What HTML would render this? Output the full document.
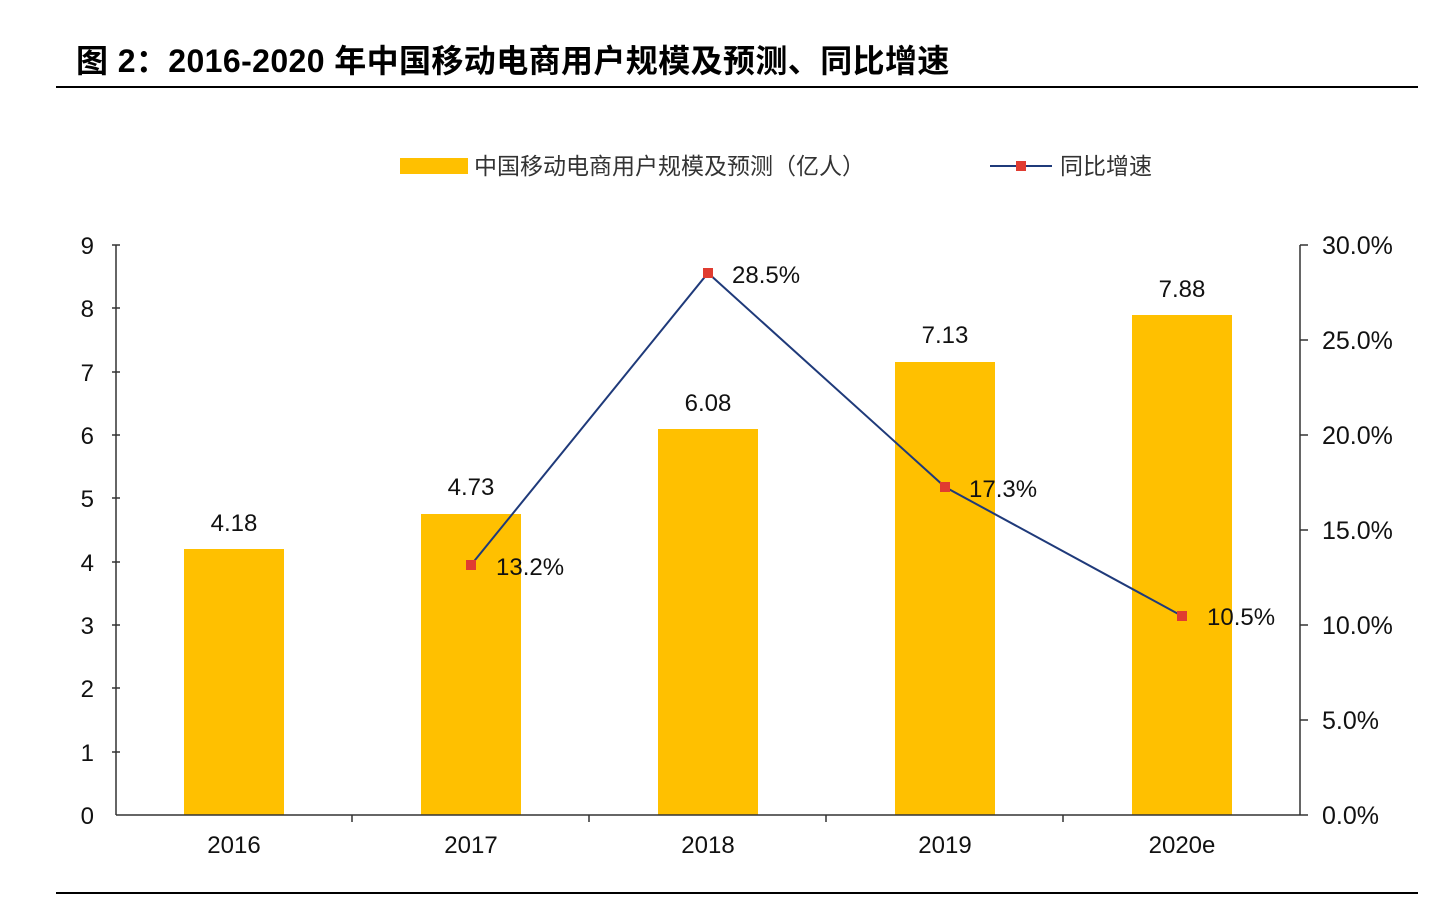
<!DOCTYPE html>
<html><head><meta charset="utf-8"><style>
html,body{margin:0;padding:0;background:#fff;}
body{width:1448px;height:896px;overflow:hidden;}
</style></head><body>
<svg width="1448" height="896" xmlns="http://www.w3.org/2000/svg" font-family="Liberation Sans, Noto Sans CJK SC, sans-serif">
<text x="76" y="72" font-size="32" font-weight="bold" fill="#000" letter-spacing="0.4">图 2：2016-2020 年中国移动电商用户规模及预测、同比增速</text>
<line x1="56" y1="87" x2="1418" y2="87" stroke="#000" stroke-width="2"/>
<line x1="56" y1="893" x2="1418" y2="893" stroke="#000" stroke-width="2"/>
<rect x="400" y="158" width="68" height="16" fill="#FFC000"/>
<text x="474" y="174" font-size="23" fill="#333">中国移动电商用户规模及预测（亿人）</text>
<line x1="990" y1="166" x2="1052" y2="166" stroke="#1F3A7A" stroke-width="2"/>
<rect x="1016" y="161" width="10" height="10" fill="#E03C31"/>
<text x="1060" y="174" font-size="23" fill="#333">同比增速</text>
<g fill="#FFC000">
<rect x="184" y="549" width="100" height="266"/>
<rect x="421" y="514" width="100" height="301"/>
<rect x="658" y="429" width="100" height="386"/>
<rect x="895" y="362" width="100" height="453"/>
<rect x="1132" y="315" width="100" height="500"/>
</g>
<g stroke="#333" stroke-width="1.5" fill="none">
<line x1="116" y1="245" x2="116" y2="815"/>
<line x1="1300" y1="245" x2="1300" y2="815"/>
<line x1="116" y1="815" x2="1300" y2="815"/>
<path d="M112 245H120M112 308H120M112 372H120M112 435H120M112 498H120M112 562H120M112 625H120M112 688H120M112 752H120"/>
<path d="M1300 245H1308M1300 340H1308M1300 435H1308M1300 530H1308M1300 625H1308M1300 720H1308M1300 815H1308"/>
<path d="M352 815V822M589 815V822M826 815V822M1063 815V822"/>
</g>
<g font-size="24" fill="#111" text-anchor="end">
<text x="94" y="254">9</text><text x="94" y="317">8</text><text x="94" y="381">7</text><text x="94" y="444">6</text><text x="94" y="507">5</text><text x="94" y="571">4</text><text x="94" y="634">3</text><text x="94" y="697">2</text><text x="94" y="761">1</text><text x="94" y="824">0</text>
</g>
<g font-size="25" fill="#111">
<text x="1322" y="254">30.0%</text><text x="1322" y="349">25.0%</text><text x="1322" y="444">20.0%</text><text x="1322" y="539">15.0%</text><text x="1322" y="634">10.0%</text><text x="1322" y="729">5.0%</text><text x="1322" y="824">0.0%</text>
</g>
<g font-size="24" fill="#111" text-anchor="middle">
<text x="234" y="853">2016</text><text x="471" y="853">2017</text><text x="708" y="853">2018</text><text x="945" y="853">2019</text><text x="1182" y="853">2020e</text>
<text x="234" y="531">4.18</text><text x="471" y="495">4.73</text><text x="708" y="411">6.08</text><text x="945" y="343">7.13</text><text x="1182" y="297">7.88</text>
</g>
<polyline points="471,565 708,273 945,487 1182,616" fill="none" stroke="#1F3A7A" stroke-width="2"/>
<g fill="#E03C31">
<rect x="466" y="560" width="10" height="10"/><rect x="703" y="268" width="10" height="10"/><rect x="940" y="482" width="10" height="10"/><rect x="1177" y="611" width="10" height="10"/>
</g>
<g font-size="24" fill="#111">
<text x="496" y="575">13.2%</text><text x="732" y="283">28.5%</text><text x="969" y="497">17.3%</text><text x="1207" y="625">10.5%</text>
</g>
</svg>
</body></html>
